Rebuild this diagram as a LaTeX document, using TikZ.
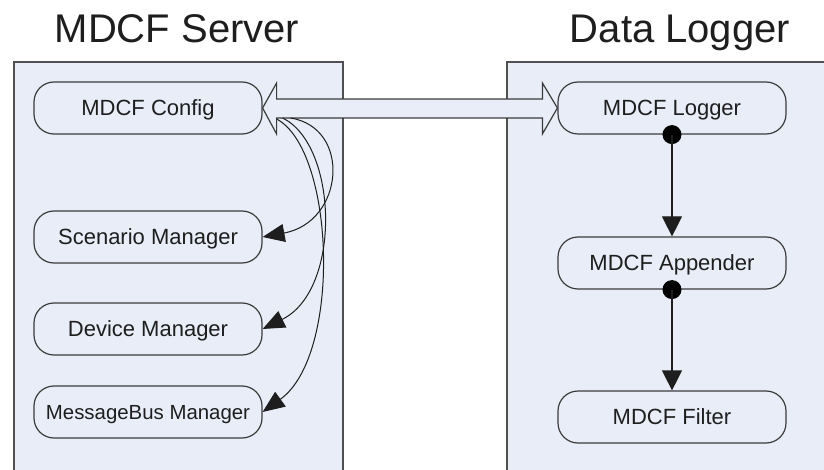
\documentclass[tikz,border=0pt]{standalone}
\usepackage{fontspec}
\setmainfont{Liberation Sans}
\usetikzlibrary{arrows.meta,calc}
\definecolor{panel}{RGB}{232,237,247}
\definecolor{edge}{RGB}{60,60,60}
\definecolor{ink}{RGB}{30,30,30}
\tikzset{
  panelbox/.style={draw=edge!90, line width=1.3pt, fill=panel},
  comp/.style={draw=edge, line width=1.2pt, rounded corners=20pt, minimum width=228pt, minimum height=52pt,
    inner sep=0pt, text=ink, font=\fontsize{22}{26}\selectfont, text height=15.8pt, text depth=0pt},
  title/.style={font=\fontsize{40}{46}\selectfont, text=ink, anchor=base, inner sep=0pt},
  curvearrow/.style={draw=ink, line width=1pt, -{Triangle[length=22pt,width=18pt]}},
  flowarrow/.style={draw=ink, line width=1.2pt, -{Triangle[length=20pt,width=20pt]}},
  dotmark/.style={circle, fill=black, inner sep=0pt, minimum size=19pt},
  hollow/.style={draw=edge, line width=1.2pt, fill=panel, line join=miter}
}
\begin{document}
\begin{tikzpicture}[x=1pt,y=-1pt]
\clip (0,0) rectangle (824,470);
\fill[white] (0,0) rectangle (824,470);
% panels
\draw[panelbox] (14,62) rectangle (343,500);
\draw[panelbox] (507,62) rectangle (850,500);
% titles
\node[title] (t1) at (177,43) {MDCF Server};
\node[title] (t2) at (680,43) {Data Logger};
% left components
\node[comp] (cfg) at (148,108) {MDCF Config};
\node[comp] (scn) at (148,237) {Scenario Manager};
\node[comp] (dev) at (148,329) {Device Manager};
\node[comp, font=\fontsize{20.4}{24}\selectfont, text height=14.6pt] (bus) at (148,412) {MessageBus Manager};
% right components
\node[comp] (log) at (672,108) {MDCF Logger};
\node[comp] (app) at (672,263) {MDCF Appender};
\node[comp] (fil) at (672,417) {MDCF Filter};
% hollow double arrow
\draw[hollow] (cfg.east)
  -- ($(cfg.east)+(14,-25)$) -- ($(cfg.east)+(14,-9)$)
  -- ($(log.west)+(-15,-9)$) -- ($(log.west)+(-15,-25)$)
  -- (log.west)
  -- ($(log.west)+(-15,26)$) -- ($(log.west)+(-15,10)$)
  -- ($(cfg.east)+(14,10)$) -- ($(cfg.east)+(14,26)$) -- cycle;
% curved arrows
\coordinate (c1) at ($(cfg.east)+(28,10)$);
\coordinate (c2) at ($(cfg.east)+(20,10)$);
\coordinate (c3) at ($(cfg.east)+(14,11)$);
\draw[curvearrow] (c1) .. controls (352,128) and (344,222) .. (scn.east);
\draw[curvearrow] (c2) .. controls (338,145) and (342,290) .. (dev.east);
\draw[curvearrow] (c3) .. controls (335,150) and (342,355) .. (bus.east);
% flow in data logger
\node[dotmark] (d1) at (log.south) {};
\node[dotmark] (d2) at (app.south) {};
\draw[flowarrow] (d1.center) -- (app.north);
\draw[flowarrow] (d2.center) -- (fil.north);
\end{tikzpicture}
\end{document}
